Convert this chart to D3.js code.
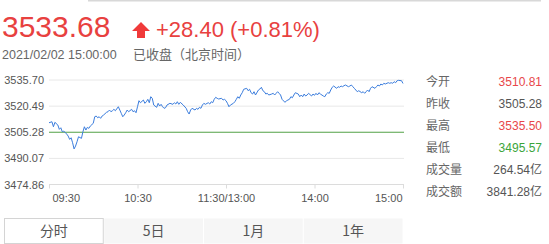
<!DOCTYPE html>
<html>
<head>
<meta charset="utf-8">
<script src="https://cdn.jsdelivr.net/npm/d3@7"></script>
<style>
  body { margin: 0; background: #fff; }
  svg { display: block; font-family: "Liberation Sans", Arial, "Noto Sans CJK SC", sans-serif; }
</style>
</head>
<body>
<div id="scene"></div>
<script>
// minutes since 09:30 (lunch break squeezed out, 120 = 11:30/13:00)
var minutes = [0,2,3,4,6,7,8,9,10,12,13,14,15,16,17,18,19,20,22,23,24,25,26,27,28,30,31,32,33,34,35,36,37,39,40,41,42,43,44,45,47,48,49,50,51,52,53,54,56,57,58,59,60,61,62,64,65,66,67,68,69,70,71,73,74,75,76,77,78,79,80,82,84,85,86,87,88,89,91,93,94,95,96,97,99,100,101,102,103,104,105,106,108,109,110,111,112,113,114,115,117,118,119,120,121,122,123,125,126,127,128,129,130,131,132,134,135,136,137,138,139,140,142,143,144,145,146,147,148,149,151,152,153,154,155,156,157,158,160,161,162,163,164,165,166,167,169,170,171,172,173,174,175,176,178,179,180,181,182,183,184,186,187,188,189,190,191,192,193,195,196,197,198,199,200,201,203,204,205,206,207,208,209,210,212,213,214,215,216,217,218,219,221,222,223,224,225,226,227,228,230,231,232,233,234,235,236,237,239,240];

var prices = [3510.81,3511.40,3508.48,3511.05,3509.48,3506.97,3507.90,3505.57,3505.98,3504.23,3503.06,3501.14,3502.07,3499.16,3495.57,3497.24,3499.74,3502.66,3501.72,3505.57,3508.48,3506.56,3508.13,3507.55,3508.89,3510.47,3514.31,3514.72,3513.73,3514.31,3513.38,3514.72,3515.30,3516.88,3517.23,3518.22,3517.23,3517.81,3518.62,3517.81,3520.14,3518.22,3516.29,3514.31,3515.30,3516.64,3518.22,3517.23,3518.62,3517.23,3517.81,3516.64,3520.14,3523.64,3522.47,3524.04,3522.12,3523.05,3524.45,3522.47,3525.97,3525.04,3521.13,3519.79,3522.12,3520.55,3521.54,3520.14,3519.21,3519.56,3521.13,3522.12,3521.54,3522.47,3521.71,3523.05,3521.54,3522.70,3521.13,3519.21,3517.23,3515.89,3518.22,3519.21,3518.22,3519.21,3518.62,3519.79,3519.21,3521.13,3522.12,3521.54,3522.47,3521.71,3523.05,3522.47,3524.45,3525.62,3525.04,3524.63,3525.04,3524.04,3524.45,3523.64,3522.12,3520.14,3521.13,3522.12,3523.05,3524.45,3525.97,3525.04,3526.96,3528.30,3530.28,3530.86,3529.46,3530.28,3528.30,3527.54,3528.88,3526.96,3529.87,3530.46,3531.45,3529.46,3528.88,3527.54,3527.95,3526.96,3527.54,3527.95,3526.96,3527.95,3528.88,3527.95,3526.96,3524.45,3522.70,3523.64,3524.04,3524.45,3525.97,3525.38,3526.96,3528.30,3527.54,3525.97,3526.96,3525.97,3527.54,3526.38,3526.96,3527.95,3526.38,3527.54,3526.78,3527.95,3526.96,3528.30,3527.54,3526.38,3525.97,3527.54,3528.30,3527.95,3529.87,3531.45,3532.20,3530.86,3531.80,3531.45,3532.20,3531.80,3532.38,3532.79,3531.80,3532.20,3532.79,3531.80,3530.86,3529.87,3528.88,3529.46,3528.30,3528.88,3527.95,3528.88,3529.87,3528.88,3530.86,3531.80,3530.86,3531.80,3532.79,3532.20,3533.37,3532.79,3533.78,3533.37,3534.13,3533.78,3534.13,3533.78,3534.71,3534.13,3535.29,3535.50,3535.29,3533.68];

var yTicks = [3535.70, 3520.49, 3505.28, 3490.07, 3474.86];
var prevClose = 3505.28;
var xTickMinutes = [0, 60, 120, 180, 240];
var xTickLabels = ["09:30", "10:30", "11:30/13:00", "14:00", "15:00"];

var statLabels = ["今开", "昨收", "最高", "最低", "成交量", "成交额"];
var statValues = ["3510.81", "3505.28", "3535.50", "3495.57", "264.54亿", "3841.28亿"];
var statColors = ["#e8474a", "#555", "#e8474a", "#3ba53b", "#555", "#555"];

var tabs = ["分时", "5日", "1月", "1年"];

var ctx = {
  w: 549,
  h: 244,
  left: 49,
  right: 403,
  top: 80,
  bottom: 184.5,
  red: "#e8413f"
};

var svg = d3.select("#scene").append("svg")
  .attr("width", ctx.w)
  .attr("height", ctx.h);

// thin line along the very top
svg.append("line")
  .attr("x1", 88).attr("x2", 541)
  .attr("y1", 0.5).attr("y2", 0.5)
  .attr("stroke", "#d8d8d8")
  .attr("stroke-width", 2);

/******** header ********/
svg.append("text")
  .attr("x", 2).attr("y", 37)
  .attr("fill", ctx.red)
  .style("font-size", "30px")
  .text("3533.68");

// up arrow
svg.append("path")
  .attr("d", "M141,22 L150,31 L145,31 L145,38 L137,38 L137,31 L132,31 Z")
  .attr("fill", "#f03a3a");

svg.append("text")
  .attr("x", 156).attr("y", 37)
  .attr("fill", ctx.red)
  .style("font-size", "22px")
  .text("+28.40 (+0.81%)");

svg.append("text")
  .attr("x", 2).attr("y", 59)
  .attr("fill", "#666")
  .style("font-size", "12.5px")
  .text("2021/02/02 15:00:00");

svg.append("text")
  .attr("x", 133).attr("y", 59)
  .attr("fill", "#666")
  .style("font-size", "13px")
  .style("font-family", "'Noto Sans CJK SC', sans-serif")
  .text("已收盘（北京时间）");

/******** chart ********/
var x = d3.scaleLinear().domain([0, 240]).range([ctx.left, ctx.right]);
var y = d3.scaleLinear().domain([yTicks[4], yTicks[0]]).range([ctx.bottom, ctx.top]);

// grid lines
svg.append("g")
  .selectAll("line")
  .data(yTicks.slice(0, 4))
  .enter()
  .append("line")
  .attr("x1", ctx.left).attr("x2", ctx.right + 1)
  .attr("y1", function (d) { return y(d); })
  .attr("y2", function (d) { return y(d); })
  .attr("stroke", "#e8e8e8");

// y labels
var yAxis = svg.append("g")
  .attr("transform", "translate(" + (ctx.left - 5) + ",0)")
  .call(d3.axisLeft(y).tickValues(yTicks).tickSize(0).tickPadding(0)
    .tickFormat(function (d) { return d.toFixed(2); }));
yAxis.select(".domain").remove();
yAxis.selectAll("text")
  .attr("fill", "#555")
  .style("font-size", "11px")
  .style("font-family", "'Liberation Sans', Arial, sans-serif");

// x axis
var xAxis = svg.append("g")
  .attr("transform", "translate(0," + ctx.bottom + ")")
  .call(d3.axisBottom(x).tickValues(xTickMinutes).tickSize(4).tickPadding(6)
    .tickFormat(function (d, i) { return xTickLabels[i]; }));
xAxis.select(".domain")
  .attr("d", "M" + ctx.left + ",0H" + (ctx.right + 1))
  .attr("stroke", "#dcdcdc");
xAxis.selectAll(".tick line").attr("stroke", "#dcdcdc");
xAxis.selectAll("text")
  .attr("fill", "#555")
  .style("font-size", "11px")
  .style("font-family", "'Liberation Sans', Arial, sans-serif")
  .attr("text-anchor", function (d, i) {
    return i === 0 ? "start" : (i === xTickMinutes.length - 1 ? "end" : "middle");
  })
  .attr("dx", function (d, i) {
    return i === 0 ? 3 : (i === xTickMinutes.length - 1 ? -1 : 0);
  });

// previous close
svg.append("line")
  .attr("x1", ctx.left).attr("x2", ctx.right + 1)
  .attr("y1", y(prevClose)).attr("y2", y(prevClose))
  .attr("stroke", "#5aa84e");

// price line
var line = d3.line()
  .x(function (d, i) { return x(minutes[i]); })
  .y(function (d) { return y(d); });

svg.append("path")
  .datum(prices)
  .attr("d", line)
  .attr("fill", "none")
  .attr("stroke", "#3b7ddd")
  .attr("stroke-width", 1);

/******** stats panel ********/
var stats = svg.append("g")
  .style("font-size", "12px");

stats.selectAll(".lbl")
  .data(statLabels)
  .enter()
  .append("text")
  .attr("class", "lbl")
  .attr("x", 426)
  .attr("y", function (d, i) { return 82 + i * 22; })
  .attr("dy", "0.35em")
  .attr("fill", "#666")
  .style("font-family", "'Noto Sans CJK SC', sans-serif")
  .text(function (d) { return d; });

stats.selectAll(".val")
  .data(statValues)
  .enter()
  .append("text")
  .attr("class", "val")
  .attr("x", 542)
  .attr("y", function (d, i) { return 82 + i * 22; })
  .attr("dy", "0.35em")
  .attr("text-anchor", "end")
  .attr("fill", function (d, i) { return statColors[i]; })
  .text(function (d) { return d; });

/******** tabs ********/
var tabX = d3.scaleBand().domain(tabs).range([4, 403]);

var tab = svg.append("g")
  .selectAll("g")
  .data(tabs)
  .enter()
  .append("g");

tab.append("rect")
  .attr("x", function (d) { return tabX(d) + 0.5; })
  .attr("y", 218.5)
  .attr("width", tabX.bandwidth() - 1)
  .attr("height", 25)
  .attr("fill", function (d, i) { return i === 0 ? "#fff" : "#f6f6f6"; })
  .attr("stroke", function (d, i) { return i === 0 ? "#d4d4d4" : "none"; });

tab.append("text")
  .attr("x", function (d) { return tabX(d) + tabX.bandwidth() / 2; })
  .attr("y", 231)
  .attr("dy", "0.35em")
  .attr("text-anchor", "middle")
  .attr("fill", "#555")
  .style("font-size", "14px")
  .style("font-family", "'Noto Sans CJK SC', sans-serif")
  .text(function (d) { return d; });
</script>
</body>
</html>
